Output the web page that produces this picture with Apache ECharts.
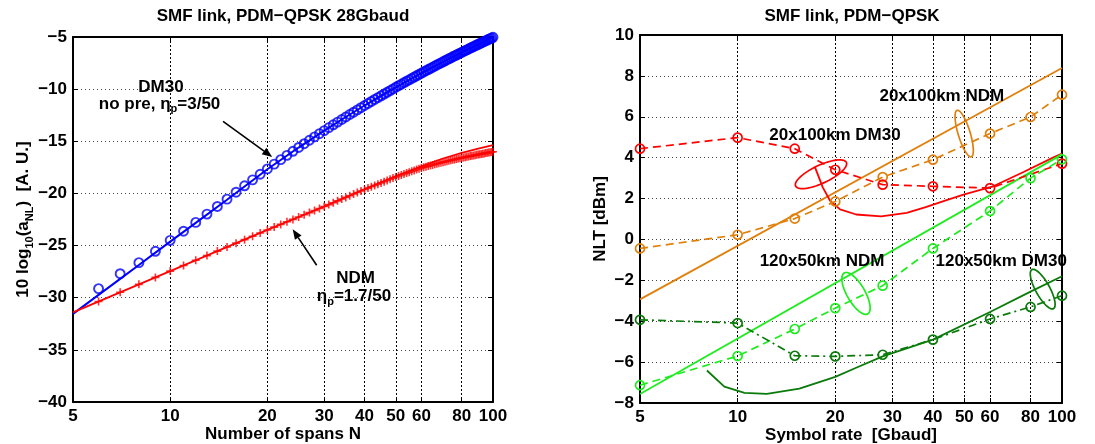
<!DOCTYPE html>
<html><head><meta charset="utf-8">
<script src="https://cdn.jsdelivr.net/npm/echarts@6/dist/echarts.min.js"></script>
<style>html,body{margin:0;padding:0;background:#fff}#c{width:1095px;height:444px}</style>
</head><body><div id="c"></div>
<script>
const FONT = '"Liberation Sans", Arial, Helvetica, sans-serif';

// ---------------- left panel: a_NL vs number of spans ----------------
const spansN = [6,7,8,9,10,11,12,13,14,15,16,17,18,19,20,21,22,23,24,25,26,27,28,29,30,31,32,33,34,35,36,37,38,39,40,41,42,43,44,45,46,47,48,49,50,51,52,53,54,55,56,57,58,59,60,61,62,63,64,65,66,67,68,69,70,71,72,73,74,75,76,77,78,79,80,81,82,83,84,85,86,87,88,89,90,91,92,93,94,95,96,97,98,99,100];
const dm30Sim = [-29.13,-27.7,-26.64,-25.55,-24.5,-23.62,-22.78,-21.98,-21.25,-20.55,-19.88,-19.27,-18.7,-18.16,-17.65,
 -17.19,-16.76,-16.35,-15.96,-15.59,-15.23,-14.9,-14.58,-14.27,-13.98,
 -13.69,-13.42,-13.16,-12.91,-12.67,-12.43,-12.21,-11.99,-11.78,-11.57,
 -11.37,-11.18,-10.99,-10.81,-10.64,-10.47,-10.3,-10.14,-9.98,-9.82,
 -9.67,-9.53,-9.38,-9.24,-9.11,-8.97,-8.84,-8.72,-8.59,-8.47,
 -8.35,-8.23,-8.12,-8.01,-7.9,-7.79,-7.68,-7.58,-7.48,-7.38,
 -7.28,-7.18,-7.09,-7.0,-6.9,-6.81,-6.73,-6.64,-6.55,-6.47,
 -6.39,-6.31,-6.23,-6.15,-6.07,-5.99,-5.92,-5.84,-5.77,-5.7,
 -5.63,-5.56,-5.49,-5.42,-5.35,-5.29,-5.22,-5.16,-5.1,-5.03];
const ndmSim = [-30.36,-29.48,-28.72,-28.05,-27.45,-26.91,-26.41,-25.96,-25.53,-25.14,-24.77,-24.43,-24.1,-23.79,-23.5,
 -23.23,-22.97,-22.72,-22.49,-22.26,-22.04,-21.84,-21.63,-21.44,-21.25,
 -21.07,-20.89,-20.71,-20.54,-20.38,-20.22,-20.06,-19.91,-19.76,-19.62,
 -19.49,-19.36,-19.23,-19.11,-18.99,-18.87,-18.75,-18.64,-18.53,-18.42,
 -18.33,-18.23,-18.14,-18.05,-17.97,-17.88,-17.8,-17.71,-17.63,-17.55,
 -17.49,-17.43,-17.38,-17.32,-17.27,-17.21,-17.16,-17.1,-17.05,-17.0,
 -16.96,-16.91,-16.87,-16.83,-16.78,-16.74,-16.7,-16.66,-16.62,-16.58,
 -16.55,-16.52,-16.48,-16.45,-16.42,-16.39,-16.36,-16.33,-16.3,-16.27,
 -16.24,-16.21,-16.19,-16.16,-16.13,-16.11,-16.08,-16.05,-16.03,-16.0];
const dm30ModelN = [5,6,7,8,9,10,12,15,20,25,30,35,40,45,50,60,70,80,90,100];
const dm30ModelV = [-31.55,-29.73,-28.19,-26.86,-25.68,-24.62,-22.82,-20.6,-17.68,-15.6,-13.98,-12.67,-11.57,-10.64,-9.82,-8.47,-7.38,-6.47,-5.7,-5.03];
const ndmModelN = [5,10,20,30,40,50,60,70,80,90,100];
const ndmModelV = [-31.4,-27.45,-23.5,-21.25,-19.6,-18.35,-17.4,-16.65,-16.1,-15.7,-15.36];
const leftXTicks = [5,10,20,30,40,50,60,80,100];

// ---------------- right panel: NLT vs symbol rate ----------------
const symbolRates = [5,10,15,20,28,40,60,80,100];
const ndm20x100Sim = [-0.44,0.23,1.02,1.86,3.05,3.9,5.18,5.99,7.08];
const dm30_20x100Sim = [4.44,4.98,4.44,3.41,2.68,2.6,2.51,null,3.71];
const ndm120x50Sim = [-7.13,-5.7,-4.38,-3.36,-2.26,-0.44,1.39,3.0,3.92];
const dm30_120x50Sim = [-3.93,-4.09,-5.69,-5.72,-5.64,-4.9,-3.89,-3.3,-2.75];
const ndm20x100ModelR = [5,100];
const ndm20x100ModelV = [-2.93,8.39];
const ndm120x50ModelR = [5,100];
const ndm120x50ModelV = [-7.56,4.16];
const dm30_20x100ModelR = [17.3,18.3,19.3,20.7,23.2,27.7,33.2,38,44.3,50,60.9,76.4,93.8,100];
const dm30_20x100ModelV = [3.55,2.55,1.88,1.47,1.22,1.13,1.3,1.58,1.94,2.2,2.58,3.31,4.0,4.2];
const dm30_120x50ModelR = [8.04,9.1,10.5,12.3,15.5,20,23,28,40,60,80,100];
const dm30_120x50ModelV = [-6.41,-7.2,-7.5,-7.55,-7.3,-6.72,-6.3,-5.72,-4.9,-3.55,-2.55,-1.8];
const rightXTicks = [5,10,20,30,40,50,60,80,100];

const C = {blue:'#0000ff', red:'#ff0000', orange:'#e0800c', lgreen:'#1eec1e', dgreen:'#0a7a0a'};

const zip = (xs, ys) => xs.map((x, i) => [x, ys[i]]);
const minus = v => (v < 0 ? '\u2212' + Math.abs(v) : String(v));
const bold = (size) => ({color:'#000', fontFamily: FONT, fontWeight:'bold', fontSize: size});

function xAxesFor(grid, ticks, name) {
  const base = {
    type:'log', logBase:10, min:5, max:100, gridIndex:grid,
    axisLine:{show:true, onZero:false, lineStyle:{color:'#000', width:2}},
    axisTick:{show:true, inside:true, length:5, customValues:ticks, lineStyle:{color:'#000', width:1}},
    minorTick:{show:false}, minorSplitLine:{show:false}
  };
  return [
    Object.assign({}, base, {
      position:'bottom',
      axisLabel:Object.assign({customValues:ticks, formatter:v => String(Math.round(v)), margin:6}, bold(17)),
      splitLine:{show:true, lineStyle:{color:'#000', type:[2,2], width:1}},
      name, nameLocation:'middle', nameGap:24, nameMoveOverlap:false,
      nameTextStyle:bold(17)
    }),
    Object.assign({}, base, {position:'top', axisLabel:{show:false}, splitLine:{show:false}})
  ];
}
function yAxesFor(grid, min, max, interval, name, nameGap, nameStyle) {
  const base = {
    type:'value', min, max, interval, gridIndex:grid,
    axisLine:{show:true, onZero:false, lineStyle:{color:'#000', width:2}},
    axisTick:{show:true, inside:true, length:5, lineStyle:{color:'#000', width:1}}
  };
  return [
    Object.assign({}, base, {
      position:'left',
      axisLabel:Object.assign({formatter:minus, margin:6}, bold(17)),
      splitLine:{show:true, lineStyle:{color:'#444', type:[1,3], width:1}},
      name, nameLocation:'middle', nameGap, nameRotate:90, nameMoveOverlap:false,
      nameTextStyle:nameStyle
    }),
    Object.assign({}, base, {position:'right', axisLabel:{show:false}, splitLine:{show:false}})
  ];
}

const xAxes = [...xAxesFor(0, leftXTicks, 'Number of spans N'), ...xAxesFor(1, rightXTicks, 'Symbol rate  [Gbaud]')];
const leftYName = Object.assign(bold(17), {
  lineHeight: 24,
  rich: {
    m: Object.assign(bold(17), {lineHeight: 24, verticalAlign:'middle'}),
    s: Object.assign(bold(11), {lineHeight: 13, verticalAlign:'bottom'})
  }
});
const yAxes = [
  ...yAxesFor(0, -40, -5, 5, '{m|10 log}{s|10}{m|(a}{s|NL}{m|)  [A. U.]}', 38, leftYName),
  ...yAxesFor(1, -8, 10, 2, 'NLT [dBm]', 31, bold(17))
];

const plus = 'path://M4,0H6V4H10V6H6V10H4V6H0V4H4Z';
function simLine(data, color, dash) {
  return {type:'line', xAxisIndex:2, yAxisIndex:2, data, connectNulls:true,
    lineStyle:{color, width:1.7, type:dash}, symbol:'circle', symbolSize:9, showSymbol:true,
    itemStyle:{color:'rgba(0,0,0,0)', borderColor:color, borderWidth:1.7}, z:3};
}
function modelLine(xi, yi, data, color, w) {
  return {type:'line', xAxisIndex:xi, yAxisIndex:yi, data, showSymbol:false, symbol:'none',
    lineStyle:{color, width:w}, z:2};
}

const series = [
  modelLine(0, 0, zip(dm30ModelN, dm30ModelV), C.blue, 2),
  {type:'scatter', xAxisIndex:0, yAxisIndex:0, data:zip(spansN, dm30Sim), symbol:'circle', symbolSize:9,
   itemStyle:{color:'rgba(0,0,0,0)', borderColor:C.blue, borderWidth:1.9}, z:3},
  modelLine(0, 0, zip(ndmModelN, ndmModelV), C.red, 1.8),
  {type:'scatter', xAxisIndex:0, yAxisIndex:0, data:zip(spansN, ndmSim), symbol:plus, symbolSize:8,
   itemStyle:{color:C.red}, z:3},

  modelLine(2, 2, zip(ndm20x100ModelR, ndm20x100ModelV), C.orange, 1.8),
  simLine(zip(symbolRates, ndm20x100Sim), C.orange, [8,5]),
  modelLine(2, 2, zip(dm30_20x100ModelR, dm30_20x100ModelV), C.red, 1.8),
  simLine(zip(symbolRates, dm30_20x100Sim), C.red, [8,5]),
  modelLine(2, 2, zip(ndm120x50ModelR, ndm120x50ModelV), C.lgreen, 1.8),
  simLine(zip(symbolRates, ndm120x50Sim), C.lgreen, [8,5]),
  modelLine(2, 2, zip(dm30_120x50ModelR, dm30_120x50ModelV), C.dgreen, 1.8),
  simLine(zip(symbolRates, dm30_120x50Sim), C.dgreen, [8,4,2,4])
];

const option = {
  animation:false,
  backgroundColor:'#fff',
  title:[
    {text:'SMF link, PDM\u2212QPSK 28Gbaud', left:283, top:8, textAlign:'center', padding:0, textStyle:bold(17)},
    {text:'SMF link, PDM\u2212QPSK', left:852, top:8, textAlign:'center', padding:0, textStyle:bold(17)}
  ],
  grid:[
    {left:73, top:37, width:420, height:365, outerBoundsMode:'none', containLabel:false, show:false},
    {left:640, top:35, width:422, height:368, outerBoundsMode:'none', containLabel:false, show:false}
  ],
  xAxis:xAxes,
  yAxis:yAxes,
  series
};

const chart = echarts.init(document.getElementById('c'), null, {renderer:'canvas'});
chart.setOption(option);

// ---------------- annotations (anchored in data coordinates) ----------------
const leftArrows = [{from:[14.58,-13.1], to:[20.7,-16.5]}, {from:[28.43,-26.89], to:[23.96,-23.44]}];
const leftTexts = [
  {at:[9.36,-9.84], text:'{m|DM30}'},
  {at:[9.27,-11.42], text:'{m|no pre, \u03b7}{s|p}{m|=3/50}'},
  {at:[37.5,-28.11], text:'{m|NDM}'},
  {at:[37.1,-29.84], text:'{m|\u03b7}{s|p}{m|=1.7/50}'}
];
const rightTexts = [
  {at:[42.6,7.0], text:'{m|20x100km NDM}'},
  {at:[19.96,5.09], text:'{m|20x100km DM30}'},
  {at:[18.2,-1.07], text:'{m|120x50km NDM}'},
  {at:[64.96,-1.07], text:'{m|120x50km DM30}'}
];
const rightEllipses = [
  {at:[18.07,3.19], a:28, b:9, angle:-25, color:C.red},
  {at:[49.94,5.18], a:24.3, b:6, angle:73, color:C.orange},
  {at:[23.17,-2.64], a:23.6, b:9, angle:60, color:C.lgreen},
  {at:[87.2,-2.43], a:22.3, b:7, angle:61, color:C.dgreen}
];

const toPx = (side, p) => chart.convertToPixel(side === 0 ? {xAxisIndex:0, yAxisIndex:0} : {xAxisIndex:2, yAxisIndex:2}, p);
const richText = {
  m: Object.assign(bold(17), {lineHeight:22, verticalAlign:'middle'}),
  s: Object.assign(bold(11), {lineHeight:12, verticalAlign:'bottom'})
};
const graphic = [];
leftTexts.forEach(t => {
  const p = toPx(0, t.at);
  graphic.push({type:'text', x:p[0], y:p[1], z:10,
    style:{text:t.text, rich:richText, align:'center', verticalAlign:'middle', fill:'#000'}});
});
rightTexts.forEach(t => {
  const p = toPx(1, t.at);
  graphic.push({type:'text', x:p[0], y:p[1], z:10,
    style:{text:t.text, rich:richText, align:'center', verticalAlign:'middle', fill:'#000'}});
});
leftArrows.forEach(ar => {
  const s = toPx(0, ar.from), e = toPx(0, ar.to);
  const dx = e[0]-s[0], dy = e[1]-s[1], L = Math.hypot(dx, dy), ux = dx/L, uy = dy/L;
  const hl = 10, hw = 4;
  const bx = e[0]-ux*hl, by = e[1]-uy*hl;
  graphic.push({type:'line', z:10, shape:{x1:s[0], y1:s[1], x2:bx, y2:by}, style:{stroke:'#000', lineWidth:1.6}});
  graphic.push({type:'polygon', z:10, shape:{points:[[e[0],e[1]],[bx-uy*hw, by+ux*hw],[bx+uy*hw, by-ux*hw]]}, style:{fill:'#000'}});
});
rightEllipses.forEach(el => {
  const c = toPx(1, el.at), th = el.angle*Math.PI/180, pts = [];
  for (let i = 0; i < 72; i++) {
    const t = i/72*2*Math.PI, x = el.a*Math.cos(t), y = el.b*Math.sin(t);
    pts.push([c[0] + x*Math.cos(th) - y*Math.sin(th), c[1] + x*Math.sin(th) + y*Math.cos(th)]);
  }
  graphic.push({type:'polygon', z:10, shape:{points:pts}, style:{fill:'none', stroke:el.color, lineWidth:1.7}});
});
chart.setOption({graphic});
</script>
</body></html>
